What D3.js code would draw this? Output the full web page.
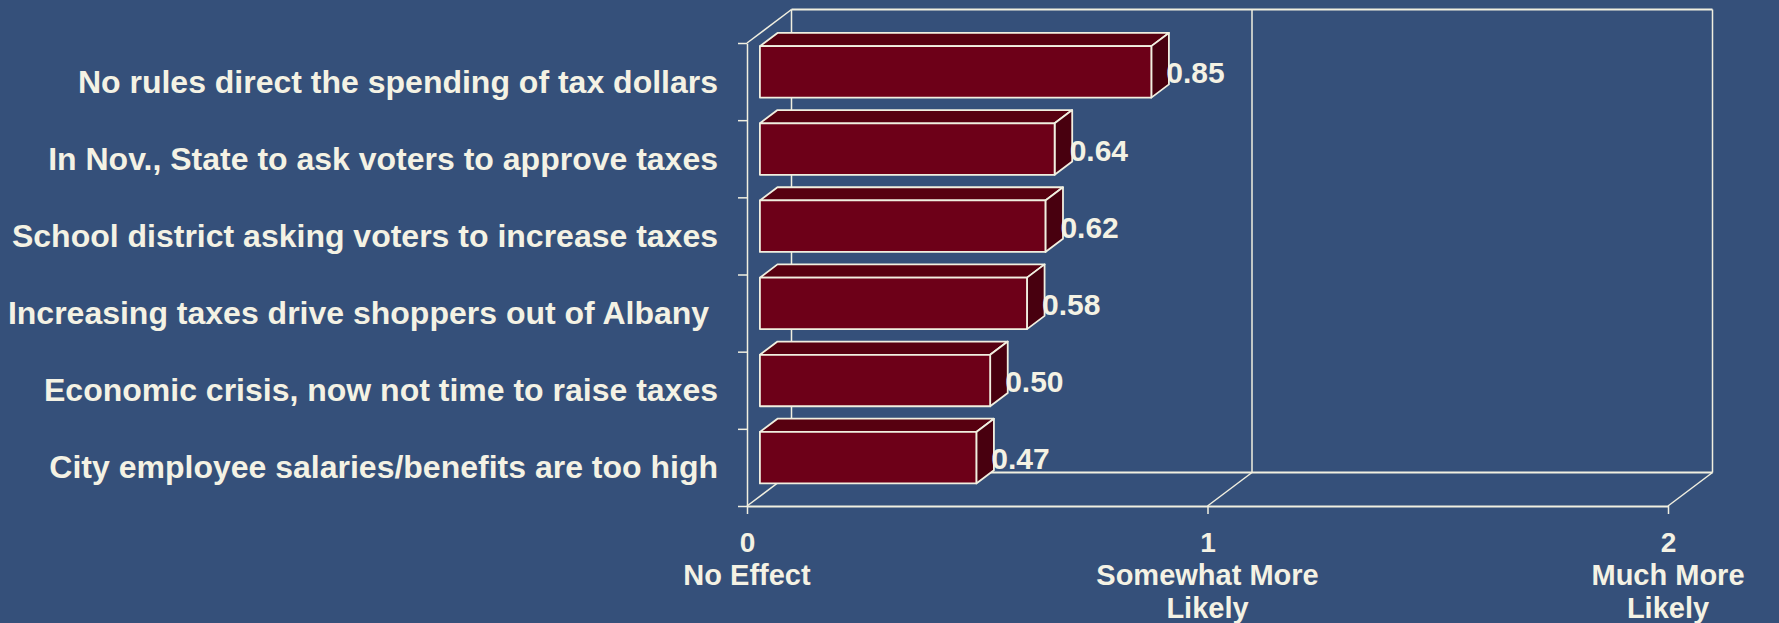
<!DOCTYPE html>
<html>
<head>
<meta charset="utf-8">
<script src="https://cdn.jsdelivr.net/npm/d3@7/dist/d3.min.js"></script>
<style>
  html, body { margin: 0; padding: 0; background: #35507a; }
  svg text { font-family: "Liberation Sans", Arial, sans-serif; font-weight: bold; fill: #f4f2e4; }
</style>
</head>
<body>
<div id="chart"></div>
<script>
// survey items, top to bottom
const categories = [
  "No rules direct the spending of tax dollars",
  "In Nov., State to ask voters to approve taxes",
  "School district asking voters to increase taxes",
  "Increasing taxes drive shoppers out of Albany ",
  "Economic crisis, now not time to raise taxes",
  "City employee salaries/benefits are too high"
];
const values = [0.85, 0.64, 0.62, 0.58, 0.50, 0.47];
const tickValues = [0, 1, 2];
const tickTitles = [["No Effect"], ["Somewhat More", "Likely"], ["Much More", "Likely"]];

const W = 1779, H = 623;
const margin = {top: 43, right: 111, bottom: 117, left: 747};
const depth = {dx: 44.5, dy: 33.5};   // 3d floor depth
const barFront = 0.29, barBack = 0.685; // bar position inside depth
const lineColor = "#f1efe0";

const svg = d3.select("#chart").append("svg")
  .attr("width", W).attr("height", H);
svg.append("rect").attr("width", W).attr("height", H).attr("fill", "#35507a");

const x = d3.scaleLinear().domain([0, 2]).range([margin.left, W - margin.right]);
const y = d3.scaleBand().domain(categories)
  .range([margin.top, H - margin.bottom])
  .paddingInner(0.333).paddingOuter(0.1667);
const yEdge = d3.scaleLinear().domain([0, categories.length]).range([margin.top, H - margin.bottom]);

const y0 = margin.top, y1 = H - margin.bottom;

// shift a front-plane point back into depth
function pt(px, py, f) { return [px + f * depth.dx, py - f * depth.dy]; }

const walls = svg.append("g")
  .attr("stroke", lineColor).attr("fill", "none");

function seg(a, b, w) {
  walls.append("line")
    .attr("x1", a[0]).attr("y1", a[1]).attr("x2", b[0]).attr("y2", b[1])
    .attr("stroke-width", w || 1.5);
}

// back wall
tickValues.forEach(v => seg(pt(x(v), y0, 1), pt(x(v), y1, 1), 1.5));
seg(pt(x(0), y0, 1), pt(x(2), y0, 1), 1.8);
seg(pt(x(0), y1, 1), pt(x(2), y1, 1), 2);
// floor depth lines
tickValues.forEach(v => seg(pt(x(v), y1, 0), pt(x(v), y1, 1), 1.5));
// side wall top edge
seg(pt(x(0), y0, 0), pt(x(0), y0, 1), 1.5);

// left axis with ticks on category boundaries
const yAxis = svg.append("g")
  .attr("transform", "translate(" + x(0) + ",0)")
  .call(d3.axisLeft(yEdge).tickValues(d3.range(categories.length + 1))
    .tickSize(9).tickSizeOuter(0).tickFormat(""));
yAxis.selectAll("path, line").attr("stroke", lineColor).attr("stroke-width", 1.5);

// bottom axis
const xAxis = svg.append("g")
  .attr("transform", "translate(0," + y1 + ")")
  .call(d3.axisBottom(x).tickValues(tickValues).tickSize(8).tickSizeOuter(0).tickFormat(d3.format("d")));
xAxis.select(".domain").attr("stroke", lineColor).attr("stroke-width", 2.2);
xAxis.selectAll(".tick line").attr("stroke", lineColor).attr("stroke-width", 1.5);
xAxis.selectAll(".tick text")
  .attr("fill", "#f4f2e4").attr("font-size", "28px")
  .attr("font-family", "Liberation Sans, Arial, sans-serif").attr("font-weight", "bold")
  .attr("y", 26).attr("dy", "0.71em");

// titles under ticks
tickValues.forEach((v, i) => {
  const t = svg.append("text")
    .attr("text-anchor", "middle")
    .attr("font-size", "29px")
    .attr("x", x(v));
  tickTitles[i].forEach((s, j) => {
    t.append("tspan").attr("x", x(v)).attr("y", 585 + j * 33).text(s);
  });
  // keep inside the picture
  const box = t.node().getBBox();
  const over = box.x + box.width - (W - 14);
  if (over > 0) t.selectAll("tspan").attr("x", x(v) - over);
});

// bars
const bars = svg.append("g").selectAll("g")
  .data(categories).join("g");

function poly(points) { return "M" + points.map(p => p.join(",")).join("L") + "Z"; }

bars.each(function(c, i) {
  const g = d3.select(this);
  const top = y(c), bot = y(c) + y.bandwidth();
  const xl = x(0), xr = x(values[i]);
  g.append("path")
    .attr("d", poly([pt(xl, top, barFront), pt(xr, top, barFront), pt(xr, top, barBack), pt(xl, top, barBack)]))
    .attr("fill", "#570010");
  g.append("path")
    .attr("d", poly([pt(xr, top, barFront), pt(xr, top, barBack), pt(xr, bot, barBack), pt(xr, bot, barFront)]))
    .attr("fill", "#48000f");
  g.append("path")
    .attr("d", poly([pt(xl, top, barFront), pt(xr, top, barFront), pt(xr, bot, barFront), pt(xl, bot, barFront)]))
    .attr("fill", "#6d0018");
  g.selectAll("path").attr("stroke", lineColor).attr("stroke-width", 1.8).attr("stroke-linejoin", "round");

  const mid = pt(xr, top + y.bandwidth() / 2, barFront);
  g.append("text")
    .attr("x", mid[0] + 15).attr("y", mid[1] + 1)
    .attr("dominant-baseline", "central")
    .attr("font-size", "30px")
    .text(d3.format(".2f")(values[i]));
});

// category labels
svg.append("g").selectAll("text")
  .data(categories).join("text")
  .attr("x", 718)
  .attr("y", d => y(d) + y.bandwidth() / 2)
  .attr("text-anchor", "end")
  .attr("dominant-baseline", "central")
  .attr("font-size", "32px")
  .style("white-space", "pre")
  .text(d => d);
</script>
</body>
</html>
